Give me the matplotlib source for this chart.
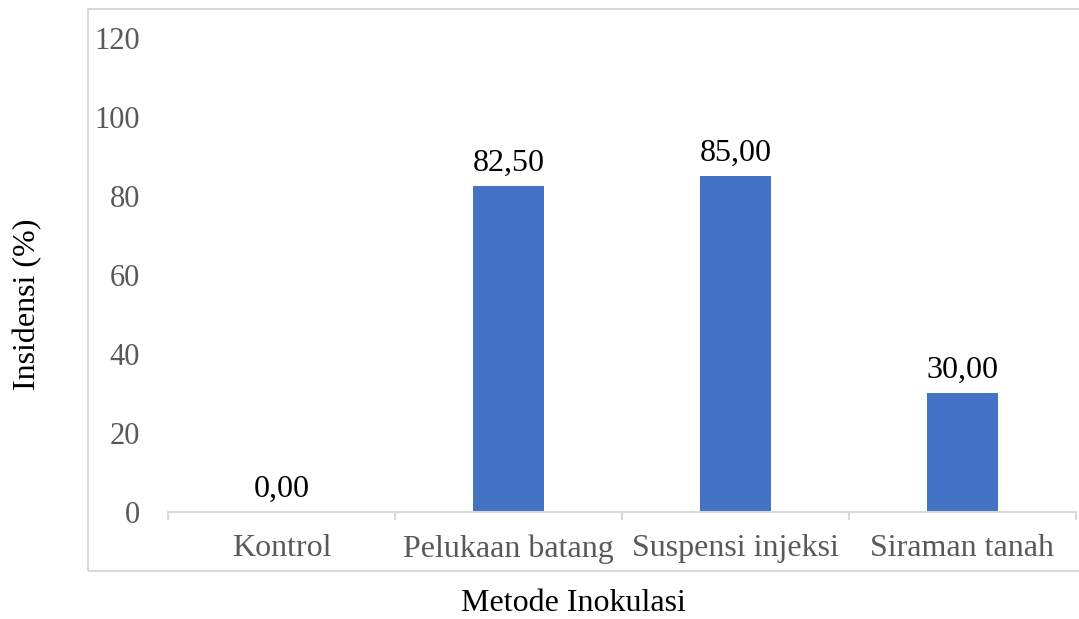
import numpy as np
import matplotlib.pyplot as plt
from matplotlib.patches import Rectangle

plt.rcParams['font.family'] = ['Liberation Serif', 'DejaVu Serif']

# Insidensi penyakit per metode inokulasi
metode = ["Kontrol", "Pelukaan batang", "Suspensi injeksi", "Siraman tanah"]
insidensi = [0.00, 82.50, 85.00, 30.00]
y_ticks = [0, 20, 40, 60, 80, 100, 120]

fig = plt.figure(figsize=(10.79, 6.19), dpi=100)
ax = fig.add_axes([0.1557, 0.1729, 0.8415, 0.7657])

x = np.arange(len(metode))
bars = ax.bar(x, insidensi, width=0.31, color="#4472C4", zorder=2)

for xi, v in zip(x, insidensi):
    ax.annotate(f"{v:.2f}".replace(".", ","), (xi, v), xytext=(0, 6),
                textcoords="offset points", ha="center", va="bottom",
                fontsize=23, color="black")

ax.set_xlim(-0.5, len(metode) - 0.5)
ax.set_ylim(0, 120)
ax.set_yticks(y_ticks)
ax.set_yticklabels([str(t) for t in y_ticks], fontsize=22, color="#595959")
ax.tick_params(axis="y", length=0, pad=20)

ax.set_xticks(x)
ax.set_xticklabels(metode, fontsize=23, color="#595959")
ax.set_xticks(np.arange(len(metode) + 1) - 0.5, minor=True)
ax.tick_params(axis="x", which="major", length=0, pad=16)
ax.tick_params(axis="x", which="minor", length=6, width=1.5, color="#d9d9d9",
               direction="out")

for side in ["top", "right", "left"]:
    ax.spines[side].set_visible(False)
ax.spines["bottom"].set_color("#d9d9d9")
ax.spines["bottom"].set_linewidth(1.5)

# chart area frame
fig.patches.append(Rectangle((0.0816, 0.0775), 1.0, 0.908, transform=fig.transFigure,
                             fill=False, edgecolor="#d9d9d9", linewidth=1.5))

fig.text(0.5315, 0.025, "Metode Inokulasi", ha="center", va="center", fontsize=23)
fig.text(0.026, 0.508, "Insidensi (%)", ha="center", va="center", rotation=90,
         fontsize=23)

fig.savefig("out.png", dpi=100)
